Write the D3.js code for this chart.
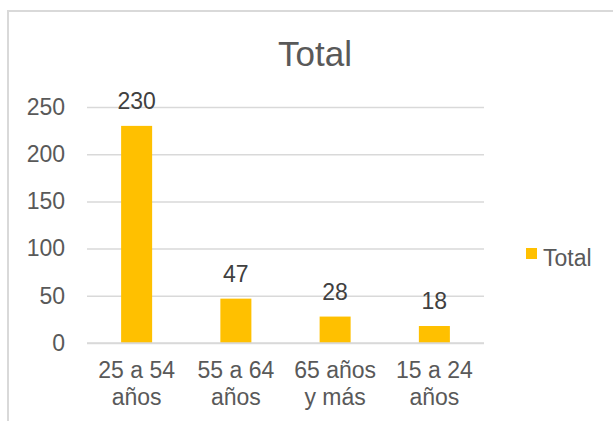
<!DOCTYPE html>
<html>
<head>
<meta charset="utf-8">
<script src="https://cdn.jsdelivr.net/npm/d3@7"></script>
<style>
  html, body { margin: 0; padding: 0; background: #fff; }
  svg { display: block; font-family: "Liberation Sans", Arial, sans-serif; }
</style>
</head>
<body>
<svg id="chart" width="613" height="421"></svg>
<script>
// Age groups and their totals
const categories = [["25 a 54", "años"], ["55 a 64", "años"], ["65 años", "y más"], ["15 a 24", "años"]];
const values = [230, 47, 28, 18];
const yTicks = [0, 50, 100, 150, 200, 250];
const seriesName = "Total";

const svg = d3.select("#chart");
const textColor = "#595959";
const gridColor = "#d9d9d9";
const barColor = "#ffc000";

// outer chart frame (runs off the right and bottom edges)
svg.append("rect")
  .attr("x", 8).attr("y", 11)
  .attr("width", 700).attr("height", 500)
  .attr("fill", "none").attr("stroke", gridColor).attr("stroke-width", 2);

const plot = { left: 87, right: 484, top: 107, bottom: 343 };

const x = d3.scaleBand()
  .domain(d3.range(categories.length))
  .range([plot.left, plot.right])
  .paddingInner(0.6875).paddingOuter(0.34375);

const y = d3.scaleLinear().domain([0, 250]).range([plot.bottom, plot.top]);

// title
svg.append("text")
  .attr("x", 315).attr("y", 66)
  .attr("text-anchor", "middle")
  .attr("font-size", 35).attr("fill", textColor)
  .text(seriesName);

// gridlines + y tick labels
const yAxis = d3.axisLeft(y).tickValues(yTicks).tickSize(-(plot.right - plot.left)).tickPadding(22);
const gy = svg.append("g").attr("transform", `translate(${plot.left},0)`).call(yAxis);
gy.select(".domain").remove();
gy.selectAll(".tick line").attr("stroke", gridColor).attr("stroke-width", 1.5);
gy.selectAll(".tick text")
  .attr("font-size", 23).attr("fill", textColor)
  .attr("font-family", "Liberation Sans, Arial, sans-serif");

// bars
svg.append("g").selectAll("rect")
  .data(values)
  .join("rect")
  .attr("x", (d, i) => x(i))
  .attr("y", d => y(d))
  .attr("width", x.bandwidth())
  .attr("height", d => y(0) - y(d))
  .attr("fill", barColor);

// value labels
svg.append("g").selectAll("text")
  .data(values)
  .join("text")
  .attr("x", (d, i) => x(i) + x.bandwidth() / 2)
  .attr("y", d => y(d) - 17)
  .attr("text-anchor", "middle")
  .attr("font-size", 23).attr("fill", "#404040")
  .text(d => d);

// x axis line
svg.append("line")
  .attr("x1", plot.left).attr("x2", plot.right)
  .attr("y1", y(0)).attr("y2", y(0))
  .attr("stroke", gridColor).attr("stroke-width", 1.5);

// category labels (two lines)
const xl = svg.append("g").selectAll("text")
  .data(categories)
  .join("text")
  .attr("text-anchor", "middle")
  .attr("font-size", 23).attr("fill", textColor)
  .attr("transform", (d, i) => `translate(${x(i) + x.bandwidth() / 2},0)`);
xl.selectAll("tspan")
  .data(d => d)
  .join("tspan")
  .attr("x", 0)
  .attr("y", (d, j) => 378 + j * 27)
  .text(d => d);

// legend
const lg = svg.append("g");
lg.append("rect").attr("x", 526).attr("y", 248).attr("width", 11).attr("height", 11).attr("fill", barColor);
lg.append("text").attr("x", 543).attr("y", 266)
  .attr("font-size", 23).attr("fill", textColor).text(seriesName);
</script>
</body>
</html>
